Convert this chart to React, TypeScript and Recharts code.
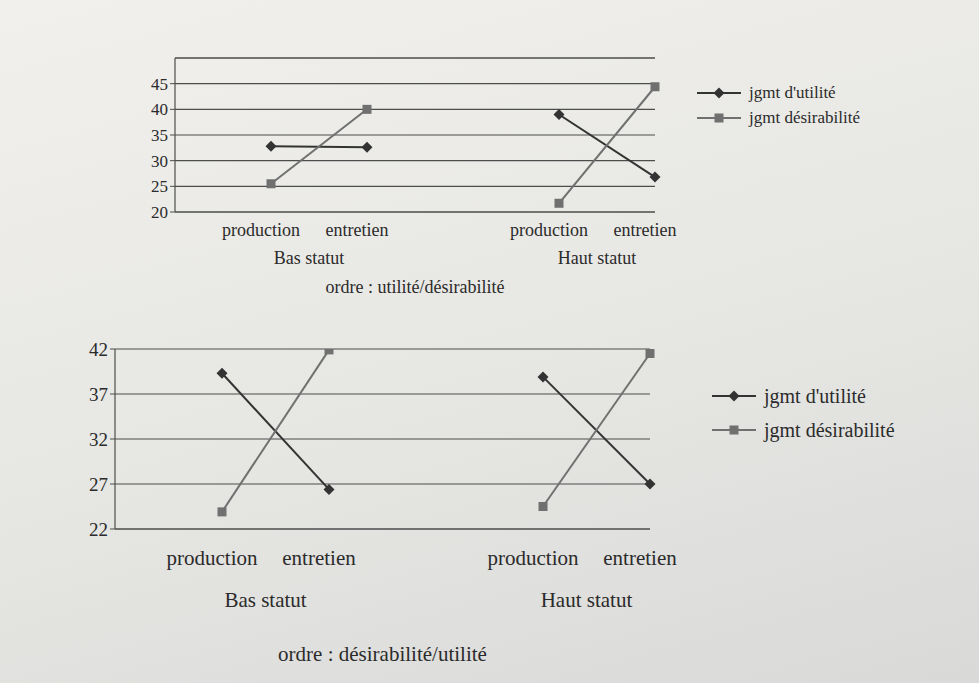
import React from 'react';
import {
  LineChart,
  Line,
  XAxis,
  YAxis,
  CartesianGrid,
  ReferenceLine,
  Legend,
} from 'recharts';

// shared categories (empty slot = gap between the two status groups)
const CATEGORIES = ['production', 'entretien', '', 'production', 'entretien'];
const GROUPS = ['Bas statut', 'Haut statut'];
const GROUP_START = [0, 3];

const SERIES_NAMES = ["jgmt d'utilité", 'jgmt désirabilité'];

// top panel : ordre utilité/désirabilité
const TOP_UTIL_BAS = [32.8, 32.6];
const TOP_UTIL_HAUT = [39.0, 26.8];
const TOP_DESIR_BAS = [25.5, 40.0];
const TOP_DESIR_HAUT = [21.7, 44.4];
const TOP_TICKS = [20, 25, 30, 35, 40, 45];
const TOP_MAX = 50;

// bottom panel : ordre désirabilité/utilité
const BOT_UTIL_BAS = [39.3, 26.4];
const BOT_UTIL_HAUT = [38.9, 27.0];
const BOT_DESIR_BAS = [23.9, 41.9];
const BOT_DESIR_HAUT = [24.5, 41.5];
const BOT_TICKS = [22, 27, 32, 37, 42];

const INK = '#2b2b2b';
const UTIL_COLOR = '#333333';
const DESIR_COLOR = '#707070';
const GRID = '#4d4d4d';
const FONT = '"Liberation Serif", "DejaVu Serif", serif';

function buildRows(uBas: number[], uHaut: number[], dBas: number[], dHaut: number[]) {
  return CATEGORIES.map((cat, i) => ({
    cat,
    uBas: i < 2 ? uBas[i] : null,
    dBas: i < 2 ? dBas[i] : null,
    uHaut: i > 2 ? uHaut[i - 3] : null,
    dHaut: i > 2 ? dHaut[i - 3] : null,
  }));
}

const diamondDot = (props: any) => {
  const { cx, cy, index } = props;
  if (cx == null || cy == null) return <g key={`dm-${index}`} />;
  const s = 5.5;
  return (
    <polygon
      key={`dm-${index}`}
      points={`${cx},${cy - s} ${cx + s},${cy} ${cx},${cy + s} ${cx - s},${cy}`}
      fill={UTIL_COLOR}
    />
  );
};

const squareDot = (props: any) => {
  const { cx, cy, index } = props;
  if (cx == null || cy == null) return <g key={`sq-${index}`} />;
  const s = 4.5;
  return <rect key={`sq-${index}`} x={cx - s} y={cy - s} width={s * 2} height={s * 2} fill={DESIR_COLOR} />;
};

interface PanelProps {
  rows: any[];
  top: number;
  height: number;
  margin: { top: number; right: number; bottom: number; left: number };
  yWidth: number;
  xHeight: number;
  domain: [number, number];
  ticks: number[];
  topLine?: number;
  tickFont: number;
  catFont: number;
  catDy: number;
  groupDy: number;
  legendPos: { left: number; top: number };
  legendFont: number;
  legendRow: number;
  caption: string;
  captionTop: number;
}

function Panel(p: PanelProps) {
  const plotWidth = 979 - p.margin.left - p.margin.right - p.yWidth;
  const pad = plotWidth / 5;
  const step = (plotWidth - pad) / 4;
  const plotCenter = p.margin.left + p.yWidth + plotWidth / 2;

  const renderTick = (props: any) => {
    const { x, y, payload, index } = props;
    const g = GROUP_START.indexOf(index);
    return (
      <g key={`t-${index}`}>
        <text x={x - 10} y={y + p.catDy} textAnchor="middle" fontSize={p.catFont} fill={INK} fontFamily={FONT}>
          {payload.value}
        </text>
        {g >= 0 && (
          <text x={x + step / 2 - 10} y={y + p.groupDy} textAnchor="middle" fontSize={p.catFont} fill={INK} fontFamily={FONT}>
            {GROUPS[g]}
          </text>
        )}
      </g>
    );
  };

  const renderLegend = (props: any) => {
    const items = (props.payload || []).filter((e: any) => e.type !== 'none');
    return (
      <div style={{ fontFamily: FONT, fontSize: p.legendFont, color: INK }}>
        {items.map((e: any, i: number) => {
          const util = String(e.dataKey).startsWith('u');
          return (
            <div key={i} style={{ display: 'flex', alignItems: 'center', height: p.legendRow }}>
              <svg width={44} height={14} style={{ marginRight: 8 }}>
                <line x1={0} y1={7} x2={44} y2={7} stroke={util ? UTIL_COLOR : DESIR_COLOR} strokeWidth={2} />
                {util ? (
                  <polygon points="22,1.5 27.5,7 22,12.5 16.5,7" fill={UTIL_COLOR} />
                ) : (
                  <rect x={17.5} y={2.5} width={9} height={9} fill={DESIR_COLOR} />
                )}
              </svg>
              <span>{e.value}</span>
            </div>
          );
        })}
      </div>
    );
  };

  return (
    <div style={{ position: 'absolute', left: 0, top: p.top, width: 979, height: p.height }}>
      <LineChart width={979} height={p.height} data={p.rows} margin={p.margin}>
        <CartesianGrid vertical={false} stroke={GRID} strokeWidth={1.2} />
        {p.topLine != null && <ReferenceLine y={p.topLine} stroke={GRID} strokeWidth={1.2} />}
        <XAxis
          dataKey="cat"
          interval={0}
          height={p.xHeight}
          padding={{ left: pad, right: 0 }}
          axisLine={{ stroke: GRID, strokeWidth: 1.2 }}
          tickLine={false}
          tickSize={0}
          tickMargin={0}
          tick={renderTick}
        />
        <YAxis
          type="number"
          domain={p.domain}
          ticks={p.ticks}
          interval={0}
          width={p.yWidth}
          allowDataOverflow
          axisLine={{ stroke: GRID, strokeWidth: 1.2 }}
          tickLine={{ stroke: GRID }}
          tickSize={5}
          tick={{ fontSize: p.tickFont, fill: INK, fontFamily: FONT }}
        />
        <Legend
          layout="vertical"
          align="center"
          verticalAlign="middle"
          content={renderLegend}
          wrapperStyle={{ left: p.legendPos.left, top: p.legendPos.top, width: 'auto' }}
        />
        <Line dataKey="uBas" name={SERIES_NAMES[0]} stroke={UTIL_COLOR} strokeWidth={2} dot={diamondDot} activeDot={false} isAnimationActive={false} />
        <Line dataKey="uHaut" name={SERIES_NAMES[0]} legendType="none" stroke={UTIL_COLOR} strokeWidth={2} dot={diamondDot} activeDot={false} isAnimationActive={false} />
        <Line dataKey="dBas" name={SERIES_NAMES[1]} stroke={DESIR_COLOR} strokeWidth={2} dot={squareDot} activeDot={false} isAnimationActive={false} />
        <Line dataKey="dHaut" name={SERIES_NAMES[1]} legendType="none" stroke={DESIR_COLOR} strokeWidth={2} dot={squareDot} activeDot={false} isAnimationActive={false} />
      </LineChart>
      <div
        style={{
          position: 'absolute',
          left: plotCenter - 200,
          width: 400,
          top: p.captionTop,
          textAlign: 'center',
          fontFamily: FONT,
          fontSize: p.catFont,
          color: INK,
        }}
      >
        {p.caption}
      </div>
    </div>
  );
}

export default function App() {
  const topRows = buildRows(TOP_UTIL_BAS, TOP_UTIL_HAUT, TOP_DESIR_BAS, TOP_DESIR_HAUT);
  const botRows = buildRows(BOT_UTIL_BAS, BOT_UTIL_HAUT, BOT_DESIR_BAS, BOT_DESIR_HAUT);

  return (
    <div
      style={{
        position: 'absolute',
        left: 0,
        top: 0,
        width: 979,
        height: 683,
        overflow: 'hidden',
        background: 'linear-gradient(165deg, #f1f0ec 0%, #e6e6e3 55%, #d9d9d8 100%)',
      }}
    >
      <Panel
        rows={topRows}
        top={0}
        height={310}
        margin={{ top: 58, right: 324, bottom: 38, left: 0 }}
        yWidth={175}
        xHeight={60}
        domain={[20, TOP_MAX]}
        ticks={TOP_TICKS}
        topLine={TOP_MAX}
        tickFont={17}
        catFont={18}
        catDy={24}
        groupDy={52}
        legendPos={{ left: 697, top: 80 }}
        legendFont={17}
        legendRow={25}
        caption="ordre : utilité/désirabilité"
        captionTop={277}
      />
      <Panel
        rows={botRows}
        top={300}
        height={383}
        margin={{ top: 49, right: 329, bottom: 74, left: 0 }}
        yWidth={115}
        xHeight={80}
        domain={[22, 42]}
        ticks={BOT_TICKS}
        tickFont={19}
        catFont={21}
        catDy={36}
        groupDy={78}
        legendPos={{ left: 712, top: 79 }}
        legendFont={20}
        legendRow={34}
        caption="ordre : désirabilité/utilité"
        captionTop={342}
      />
    </div>
  );
}
